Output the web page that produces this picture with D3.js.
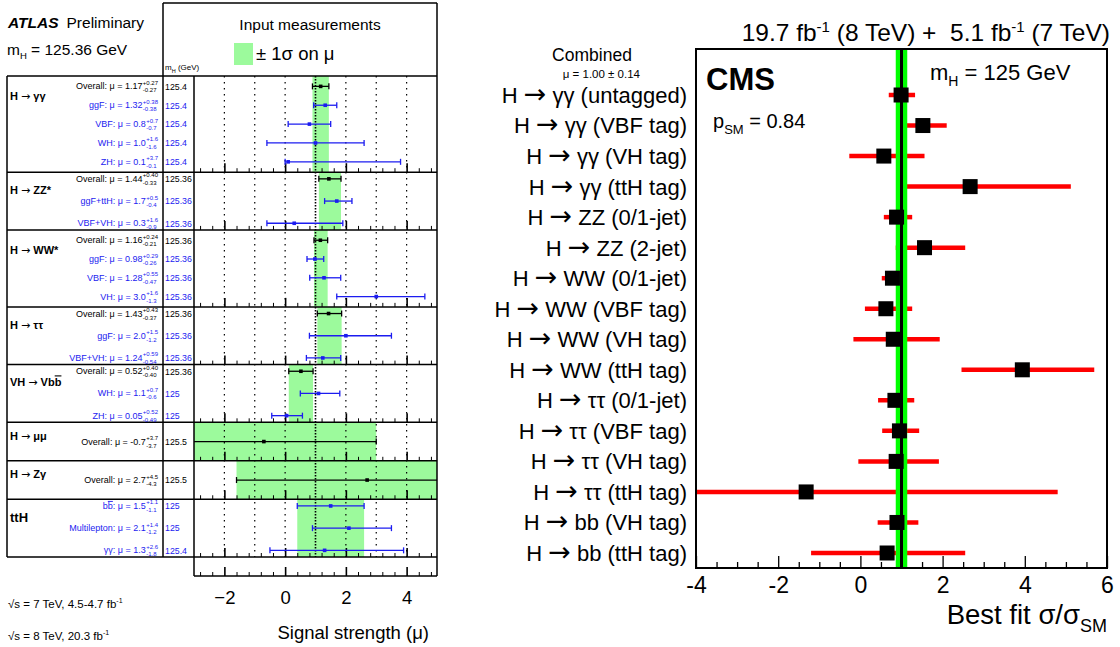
<!DOCTYPE html>
<html><head><meta charset="utf-8">
<script src="https://cdn.jsdelivr.net/npm/d3@7"></script>
<style>
body{margin:0;background:#fff}
svg{display:block}
text{font-family:"Liberation Sans",Arial,Helvetica,sans-serif}
</style>
</head><body>
<svg id="c" width="1120" height="647"></svg>
<script>
// ================= DATA =================
// ATLAS (left)
const atlasCategories = ["H → γγ","H → ZZ*","H → WW*","H → ττ","VH → Vbb\u0304","H → μμ","H → Zγ","ttH"];
const atlasCatMu   = [1.17, 1.44, 1.16, 1.43, 0.52, -0.7, 2.7, 1.5];
const atlasCatUp   = [0.27, 0.40, 0.24, 0.43, 0.40, 3.7, 4.5, 1.1];
const atlasCatDown = [0.27, 0.33, 0.21, 0.37, 0.40, 3.7, 4.3, 1.1];

const atlasRowCat  = [0,0,0,0,0, 1,1,1, 2,2,2,2, 3,3,3, 4,4,4, 5, 6, 7,7,7];
const atlasRowName = ["Overall","ggF","VBF","WH","ZH",
  "Overall","ggF+ttH","VBF+VH",
  "Overall","ggF","VBF","VH",
  "Overall","ggF","VBF+VH",
  "Overall","WH","ZH",
  "Overall",
  "Overall",
  "bb\u0304","Multilepton","γγ"];
const atlasRowMu   = ["1.17","1.32","0.8","1.0","0.1", "1.44","1.7","0.3", "1.16","0.98","1.28","3.0",
  "1.43","2.0","1.24", "0.52","1.1","0.05", "-0.7", "2.7", "1.5","2.1","1.3"];
const atlasRowUp   = ["0.27","0.38","0.7","1.6","3.7", "0.40","0.5","1.6", "0.24","0.29","0.55","1.6",
  "0.43","1.5","0.59", "0.40","0.7","0.52", "3.7", "4.5", "1.1","1.4","2.6"];
const atlasRowDown = ["0.27","0.38","0.7","1.6","0.1", "0.33","0.4","0.9", "0.21","0.26","0.47","1.3",
  "0.37","1.2","0.54", "0.40","0.6","0.49", "3.7", "4.3", "1.1","1.2","1.8"];
const atlasRowMass = ["125.4","125.4","125.4","125.4","125.4", "125.36","125.36","125.36",
  "125.36","125.36","125.36","125.36", "125.36","125.36","125.36", "125.36","125","125",
  "125.5", "125.5", "125","125","125.4"];
const atlasMajorTicks = [-2, 0, 2, 4];

// CMS (right)
const cmsCategories = ["H → γγ (untagged)","H → γγ (VBF tag)","H → γγ (VH tag)","H → γγ (ttH tag)",
  "H → ZZ (0/1-jet)","H → ZZ (2-jet)","H → WW (0/1-jet)","H → WW (VBF tag)","H → WW (VH tag)",
  "H → WW (ttH tag)","H → ττ (0/1-jet)","H → ττ (VBF tag)","H → ττ (VH tag)","H → ττ (ttH tag)",
  "H → bb (VH tag)","H → bb (ttH tag)"];
const cmsMu   = [0.99, 1.52, 0.57, 2.67, 0.88, 1.56, 0.78, 0.62, 0.80, 3.94, 0.84, 0.95, 0.87, -1.32, 0.89, 0.65];
const cmsLow  = [0.69, 0.99, -0.27, 0.91, 0.57, 0.86, 0.52, 0.11, -0.17, 2.46, 0.43, 0.53, -0.05, -4.6, 0.42, -1.20];
const cmsHigh = [1.33, 2.10, 1.56, 5.12, 1.26, 2.55, 1.02, 1.26, 1.93, 5.69, 1.31, 1.43, 1.91, 4.80, 1.41, 2.55];
const cmsCombinedMu = 1.00, cmsCombinedErr = 0.14;
const cmsTickLabels = [-4, -2, 0, 2, 4, 6];

// ================= DRAW =================
const svg = d3.select("#c");
const defs = svg.append("defs");

// helper: write text, big arrow glyph, "b\u0304" -> overlined b
function writeName(textSel, str, arrowScale) {
  const re = /(→|b\u0304)/;
  str.split(re).forEach(p => {
    if (!p) return;
    if (p === "→") {
      const t = textSel.append("tspan").attr("font-family", '"DejaVu Sans",sans-serif').attr("font-weight", "normal").text("→");
      if (arrowScale) t.attr("font-size", arrowScale);
    }
    else if (p === "b\u0304") textSel.append("tspan").text("b").style("text-decoration", "overline");
    else textSel.append("tspan").text(p);
  });
}

// ---------- ATLAS panel ----------
const aL = 7, aCol1 = 163, aPlotL = 194, aPlotR = 437, aTop = 76, aBot = 557, aAxisBot = 576, aHeadTop = 3;
const aX = d3.scaleLinear().domain([-3, 5]).range([aPlotL, aPlotR]);
const nRows = atlasCategories.map((c, i) => atlasRowCat.filter(k => k === i).length);
const units = nRows.map(n => Math.max(n, 2));
const cum = [0]; units.forEach(u => cum.push(cum[cum.length - 1] + u));
const yU = d3.scaleLinear().domain([0, cum[cum.length - 1]]).range([aTop, aBot]);
const sections = atlasCategories.map((c, i) => ({ i, top: yU(cum[i]), bot: yU(cum[i + 1]) }));
const rowY = new Array(atlasRowCat.length);
sections.forEach(s => {
  const idx = atlasRowCat.map((c, j) => j).filter(j => atlasRowCat[j] === s.i);
  const sc = d3.scalePoint().domain(idx).range([s.top, s.bot]).padding(idx.length >= 4 ? 0.55 : 0.3);
  idx.forEach(j => rowY[j] = sc(j));
});

defs.append("clipPath").attr("id", "clipA").append("rect")
  .attr("x", aPlotL).attr("y", aTop).attr("width", aPlotR - aPlotL).attr("height", aBot - aTop);

const gA = svg.append("g");
// bands
gA.append("g").attr("clip-path", "url(#clipA)").selectAll("rect").data(sections).join("rect")
  .attr("x", s => aX(atlasCatMu[s.i] - atlasCatDown[s.i]))
  .attr("width", s => aX(atlasCatMu[s.i] + atlasCatUp[s.i]) - aX(atlasCatMu[s.i] - atlasCatDown[s.i]))
  .attr("y", s => s.top).attr("height", s => s.bot - s.top)
  .attr("fill", "#9cfa9c");

// dotted lines
gA.append("g").selectAll("line").data(d3.range(-2, 5)).join("line")
  .attr("x1", d => aX(d)).attr("x2", d => aX(d)).attr("y1", aTop).attr("y2", aBot)
  .attr("stroke", "#000").attr("stroke-width", d => d === 1 ? 1.6 : 1.2)
  .attr("stroke-dasharray", d => d === 1 ? "1.5,1.5" : "1.5,4.5");

// ticks at bottom of each section and of axis box
const minorTicksA = d3.range(-2.8, 5.0001, 0.4).map(v => +v.toFixed(2)).filter(v => !atlasMajorTicks.some(m => Math.abs(m - v) < 1e-6));
const tickBases = sections.map(s => s.bot).concat([aAxisBot]);
tickBases.forEach(yb => {
  gA.append("g").attr("transform", `translate(0,${yb})`)
    .call(d3.axisBottom(aX).tickValues(minorTicksA).tickSize(-4).tickFormat(""))
    .call(g => g.select(".domain").remove())
    .call(g => g.selectAll("line").attr("stroke-width", 1));
  gA.append("g").attr("transform", `translate(0,${yb})`)
    .call(d3.axisBottom(aX).tickValues(atlasMajorTicks).tickSize(-9).tickFormat(""))
    .call(g => g.select(".domain").remove())
    .call(g => g.selectAll("line").attr("stroke-width", 1.6));
});
// tick labels
gA.append("g").attr("transform", `translate(0,${aAxisBot})`)
  .call(d3.axisBottom(aX).tickValues(atlasMajorTicks).tickSize(0).tickPadding(15))
  .call(g => g.select(".domain").remove())
  .call(g => g.selectAll("text").attr("font-size", 18.5).attr("fill", "#000")
    .attr("font-family", '"Liberation Sans",Arial,sans-serif'));

// frame lines
const hLines = sections.map(s => s.top).concat([aBot]);
gA.append("g").selectAll("line").data(hLines).join("line")
  .attr("x1", aL).attr("x2", aPlotR).attr("y1", d => d).attr("y2", d => d)
  .attr("stroke", "#000").attr("stroke-width", 1.5);
const vLines = [[aL, aTop, aBot], [aCol1, aHeadTop, aBot], [aPlotL, aTop, aAxisBot], [aPlotR, aHeadTop, aAxisBot]];
gA.append("g").selectAll("line").data(vLines).join("line")
  .attr("x1", d => d[0]).attr("x2", d => d[0]).attr("y1", d => d[1]).attr("y2", d => d[2])
  .attr("stroke", "#000").attr("stroke-width", 1.5);
gA.append("line").attr("x1", aCol1).attr("x2", aPlotR).attr("y1", aHeadTop).attr("y2", aHeadTop).attr("stroke", "#000").attr("stroke-width", 1.5);
gA.append("line").attr("x1", aPlotL).attr("x2", aPlotR).attr("y1", aAxisBot).attr("y2", aAxisBot).attr("stroke", "#000").attr("stroke-width", 1.5);

// error bars
const blue = "#1c1cf0";
const rowColor = j => atlasRowName[j] === "Overall" ? "#000" : blue;
const gE = gA.append("g").attr("clip-path", "url(#clipA)");
atlasRowCat.forEach((c, j) => {
  const mu = +atlasRowMu[j], up = +atlasRowUp[j], dn = +atlasRowDown[j], y = rowY[j], col = rowColor(j);
  const x1 = aX(mu - dn), x2 = aX(mu + up);
  gE.append("line").attr("x1", x1).attr("x2", x2).attr("y1", y).attr("y2", y).attr("stroke", col).attr("stroke-width", 1.3);
  [x1, x2].forEach(x => gE.append("line").attr("x1", x).attr("x2", x).attr("y1", y - 3).attr("y2", y + 3).attr("stroke", col).attr("stroke-width", 1.3));
  gE.append("rect").attr("x", aX(mu) - 1.8).attr("y", y - 1.8).attr("width", 3.6).attr("height", 3.6).attr("fill", col);
});

// row labels
const xr = 158;
atlasRowCat.forEach((c, j) => {
  const y = rowY[j], col = rowColor(j);
  const sup = gA.append("text").attr("x", 0).attr("y", y - 1.5).attr("font-size", 6).attr("fill", col).text("+" + atlasRowUp[j]);
  const sub = gA.append("text").attr("x", 0).attr("y", y + 6).attr("font-size", 6).attr("fill", col).text("-" + atlasRowDown[j]);
  const w = Math.max(sup.node().getComputedTextLength(), sub.node().getComputedTextLength());
  sup.attr("x", xr - w); sub.attr("x", xr - w);
  const mt = gA.append("text").attr("x", xr - w - 0.3).attr("y", y + 3).attr("text-anchor", "end")
    .attr("font-size", 9).attr("fill", col);
  writeName(mt, atlasRowName[j]);
  mt.append("tspan").text(": μ = " + atlasRowMu[j]);
  gA.append("text").attr("x", 165).attr("y", y + 3.3).attr("font-size", 8.8).attr("fill", col).text(atlasRowMass[j]);
});

// category labels
sections.forEach(s => {
  const idx = atlasRowCat.map((c, j) => j).filter(j => atlasRowCat[j] === s.i);
  const cy = idx.length > 1 ? (rowY[idx[0]] + rowY[idx[1]]) / 2 : rowY[idx[0]] - 6;
  const isTTH = atlasCategories[s.i] === "ttH";
  const t = gA.append("text").attr("x", 10).attr("y", cy + (isTTH ? 4.5 : 4))
    .attr("font-size", isTTH ? 13 : 11).attr("font-weight", "bold").attr("fill", "#000");
  writeName(t, atlasCategories[s.i]);
});

// header
const hA = gA.append("text").attr("x", 8).attr("y", 28).attr("font-size", 15.5);
hA.append("tspan").attr("font-weight", "bold").attr("font-style", "italic").text("ATLAS");
hA.append("tspan").attr("dx", 8).text("Preliminary");
const mA = gA.append("text").attr("x", 7).attr("y", 55).attr("font-size", 15.5);
mA.append("tspan").text("m");
mA.append("tspan").attr("dy", 4).attr("font-size", 9.5).text("H");
mA.append("tspan").attr("dy", -4).text(" = 125.36 GeV");
gA.append("text").attr("x", 310).attr("y", 30).attr("text-anchor", "middle").attr("font-size", 15.5).text("Input measurements");
gA.append("rect").attr("x", 234).attr("y", 43).attr("width", 19).attr("height", 22).attr("fill", "#9cfa9c");
gA.append("text").attr("x", 256).attr("y", 60).attr("font-size", 18.5).text("± 1σ on μ");
const mh = gA.append("text").attr("x", 165).attr("y", 70).attr("font-size", 8);
mh.append("tspan").text("m");
mh.append("tspan").attr("dy", 2.5).attr("font-size", 5.5).text("H");
mh.append("tspan").attr("dy", -2.5).text(" (GeV)");

gA.append("text").attr("x", 429).attr("y", 639).attr("text-anchor", "end").attr("font-size", 18.5).text("Signal strength (μ)");
[["√s = 7 TeV, 4.5-4.7 fb", 608], ["√s = 8 TeV, 20.3 fb", 640]].forEach(([s, y]) => {
  const t = gA.append("text").attr("x", 8).attr("y", y).attr("font-size", 11.5);
  t.append("tspan").text(s);
  t.append("tspan").attr("dy", -5).attr("font-size", 7).text("-1");
});

// ---------- CMS panel ----------
const cL = 696, cR = 1107, cT = 49, cB = 568;
const cX = d3.scaleLinear().domain([-4, 6]).range([cL, cR]);
const cY = d3.scalePoint().domain(cmsCategories).range([95, 553]);
defs.append("clipPath").attr("id", "clipC").append("rect")
  .attr("x", cL).attr("y", cT).attr("width", cR - cL).attr("height", cB - cT);
const gC = svg.append("g");
const gCc = gC.append("g").attr("clip-path", "url(#clipC)");
gCc.selectAll("line.bar").data(cmsCategories).join("line").attr("class", "bar")
  .attr("x1", (d, i) => cX(cmsLow[i])).attr("x2", (d, i) => cX(cmsHigh[i]))
  .attr("y1", d => cY(d)).attr("y2", d => cY(d))
  .attr("stroke", "#ff0000").attr("stroke-width", 4.5);
gCc.append("rect").attr("x", cX(cmsCombinedMu - cmsCombinedErr)).attr("width", cX(cmsCombinedMu + cmsCombinedErr) - cX(cmsCombinedMu - cmsCombinedErr))
  .attr("y", cT).attr("height", cB - cT).attr("fill", "#00ff00");
gCc.append("line").attr("x1", cX(cmsCombinedMu)).attr("x2", cX(cmsCombinedMu)).attr("y1", cT).attr("y2", cB)
  .attr("stroke", "#000").attr("stroke-width", 3);
gCc.selectAll("rect.mk").data(cmsCategories).join("rect").attr("class", "mk")
  .attr("x", (d, i) => cX(cmsMu[i]) - 7.5).attr("y", d => cY(d) - 7.5)
  .attr("width", 15).attr("height", 15).attr("fill", "#000");

// axis ticks
const minorTicksC = d3.range(-3.5, 6, 0.5).filter(v => !cmsTickLabels.includes(v));
gC.append("g").attr("transform", `translate(0,${cB})`)
  .call(d3.axisBottom(cX).tickValues(minorTicksC).tickSize(-6).tickFormat(""))
  .call(g => g.select(".domain").remove())
  .call(g => g.selectAll("line").attr("stroke-width", 1.3));
gC.append("g").attr("transform", `translate(0,${cB})`)
  .call(d3.axisBottom(cX).tickValues(cmsTickLabels).tickSize(-12).tickPadding(9).tickFormat(d => String(d)))
  .call(g => g.select(".domain").remove())
  .call(g => g.selectAll("line").attr("stroke-width", 1.3))
  .call(g => g.selectAll("text").attr("font-size", 23).attr("fill", "#000")
    .attr("font-family", '"Liberation Sans",Arial,sans-serif'));
gC.append("rect").attr("x", cL).attr("y", cT).attr("width", cR - cL).attr("height", cB - cT)
  .attr("fill", "none").attr("stroke", "#000").attr("stroke-width", 2);

// category labels
gC.selectAll("text.lab").data(cmsCategories).join("text").attr("class", "lab")
  .attr("x", 687).attr("y", d => cY(d)).attr("dy", "0.36em").attr("text-anchor", "end")
  .attr("font-size", 22).each(function (d) { writeName(d3.select(this), d, 27); });

// texts
gC.append("text").attr("x", 592).attr("y", 61).attr("text-anchor", "middle").attr("font-size", 17.5).text("Combined");
gC.append("text").attr("x", 640).attr("y", 78).attr("text-anchor", "end").attr("font-size", 11.5).text("μ = 1.00 ± 0.14");
gC.append("text").attr("x", 706).attr("y", 90).attr("font-size", 31).attr("font-weight", "bold").text("CMS");
const mC = gC.append("text").attr("x", 930).attr("y", 80).attr("font-size", 22);
mC.append("tspan").text("m");
mC.append("tspan").attr("dy", 6).attr("font-size", 14).text("H");
mC.append("tspan").attr("dy", -6).text(" = 125 GeV");
const pC = gC.append("text").attr("x", 713).attr("y", 128).attr("font-size", 20);
pC.append("tspan").text("p");
pC.append("tspan").attr("dy", 6).attr("font-size", 13).text("SM");
pC.append("tspan").attr("dy", -6).text(" = 0.84");
const hC = gC.append("text").attr("x", 1110).attr("y", 41).attr("text-anchor", "end").attr("font-size", 24.5);
hC.append("tspan").text("19.7 fb");
hC.append("tspan").attr("dy", -9).attr("font-size", 15).text("-1");
hC.append("tspan").attr("dy", 9).text(" (8 TeV) +\u00a0 5.1 fb");
hC.append("tspan").attr("dy", -9).attr("font-size", 15).text("-1");
hC.append("tspan").attr("dy", 9).text(" (7 TeV)");
const bC = gC.append("text").attr("x", 1107).attr("y", 624).attr("text-anchor", "end").attr("font-size", 27.5);
bC.append("tspan").text("Best fit σ/σ");
bC.append("tspan").attr("dy", 8).attr("font-size", 18).text("SM");
</script>
</body></html>
